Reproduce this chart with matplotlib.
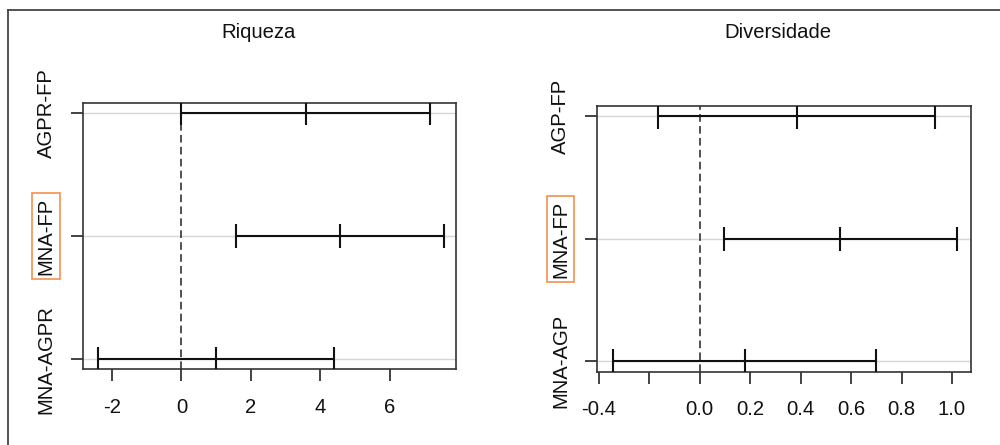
import matplotlib.pyplot as plt
from matplotlib.lines import Line2D

plt.rcParams['font.family'] = ['Liberation Sans', 'DejaVu Sans']

# Tukey HSD comparisons: difference with lower / upper bounds
riq_labels = ['MNA-AGPR', 'MNA-FP', 'AGPR-FP']
riq_diff = [1.00, 4.56, 3.58]
riq_lwr = [-2.41, 1.57, 0.00]
riq_upr = [4.40, 7.56, 7.15]

div_labels = ['MNA-AGP', 'MNA-FP', 'AGP-FP']
div_diff = [0.178, 0.556, 0.385]
div_lwr = [-0.345, 0.095, -0.164]
div_upr = [0.700, 1.018, 0.933]

riq_ticks = [-2, 0, 2, 4, 6]
riq_ticklabels = ['-2', '0', '2', '4', '6']
div_ticks = [-0.4, -0.2, 0.0, 0.2, 0.4, 0.6, 0.8, 1.0]
div_ticklabels = ['-0.4', '', '0.0', '0.2', '0.4', '0.6', '0.8', '1.0']

FS = 14.6
ORANGE = '#f39150'


def tukey_panel(ax, labels, diff, lwr, upr, ticks, ticklabels, xlim, ylim):
    rows = list(range(1, len(labels) + 1))
    for r in rows:
        ax.axhline(r, color='#d6d6d6', lw=1.0, zorder=1)
    ax.axvline(0, color='#222222', lw=1.1, ls=(0, (5, 2.8)), zorder=2)
    ax.hlines(rows, lwr, upr, color='#111111', lw=1.5, zorder=3)
    cap = 0.1
    for r, lo, d, hi in zip(rows, lwr, diff, upr):
        ax.vlines([lo, d, hi], r - cap, r + cap, color='#111111', lw=1.5, zorder=3)
    ax.set_xlim(*xlim)
    ax.set_ylim(*ylim)
    ax.set_xticks(ticks)
    ax.set_xticklabels(ticklabels)
    ax.set_yticks(rows)
    ax.set_yticklabels(labels, rotation=90, va='center')
    ax.tick_params(axis='both', direction='out', length=8.6, width=1.2,
                   color='#222222', labelsize=FS, labelcolor='#111111')
    ax.tick_params(axis='x', pad=12)
    ax.tick_params(axis='y', pad=11)
    for s in ax.spines.values():
        s.set_color('#333333')
        s.set_linewidth(1.2)
    # highlight the MNA-FP comparison
    lab = ax.get_yticklabels()[1]
    lab.set_bbox(dict(boxstyle='square,pad=0.2', fc='none', ec=ORANGE, lw=1.2))


fig = plt.figure(figsize=(10, 4.45), dpi=100)

ax1 = fig.add_axes([0.0827, 0.1708, 0.3733, 0.5978])
tukey_panel(ax1, riq_labels, riq_diff, riq_lwr, riq_upr,
            riq_ticks, riq_ticklabels, (-2.84, 7.90), (0.92, 3.08))

ax2 = fig.add_axes([0.5973, 0.1647, 0.3734, 0.597])
tukey_panel(ax2, div_labels, div_diff, div_lwr, div_upr,
            div_ticks, div_ticklabels, (-0.4055, 1.074), (0.915, 3.085))

fig.text(0.259, 1 - 32 / 445, 'Riqueza', ha='center', va='center',
         fontsize=FS, color='#111111')
fig.text(0.778, 1 - 32 / 445, 'Diversidade', ha='center', va='center',
         fontsize=FS, color='#111111')

# frame along the top and left edges
fig.add_artist(Line2D([0.008, 1.0], [1 - 10 / 445, 1 - 10 / 445],
                      transform=fig.transFigure, color='#444444', lw=1.3))
fig.add_artist(Line2D([0.008, 0.008], [0.0, 1 - 10 / 445],
                      transform=fig.transFigure, color='#444444', lw=1.3))

fig.savefig('out.png', dpi=100)
